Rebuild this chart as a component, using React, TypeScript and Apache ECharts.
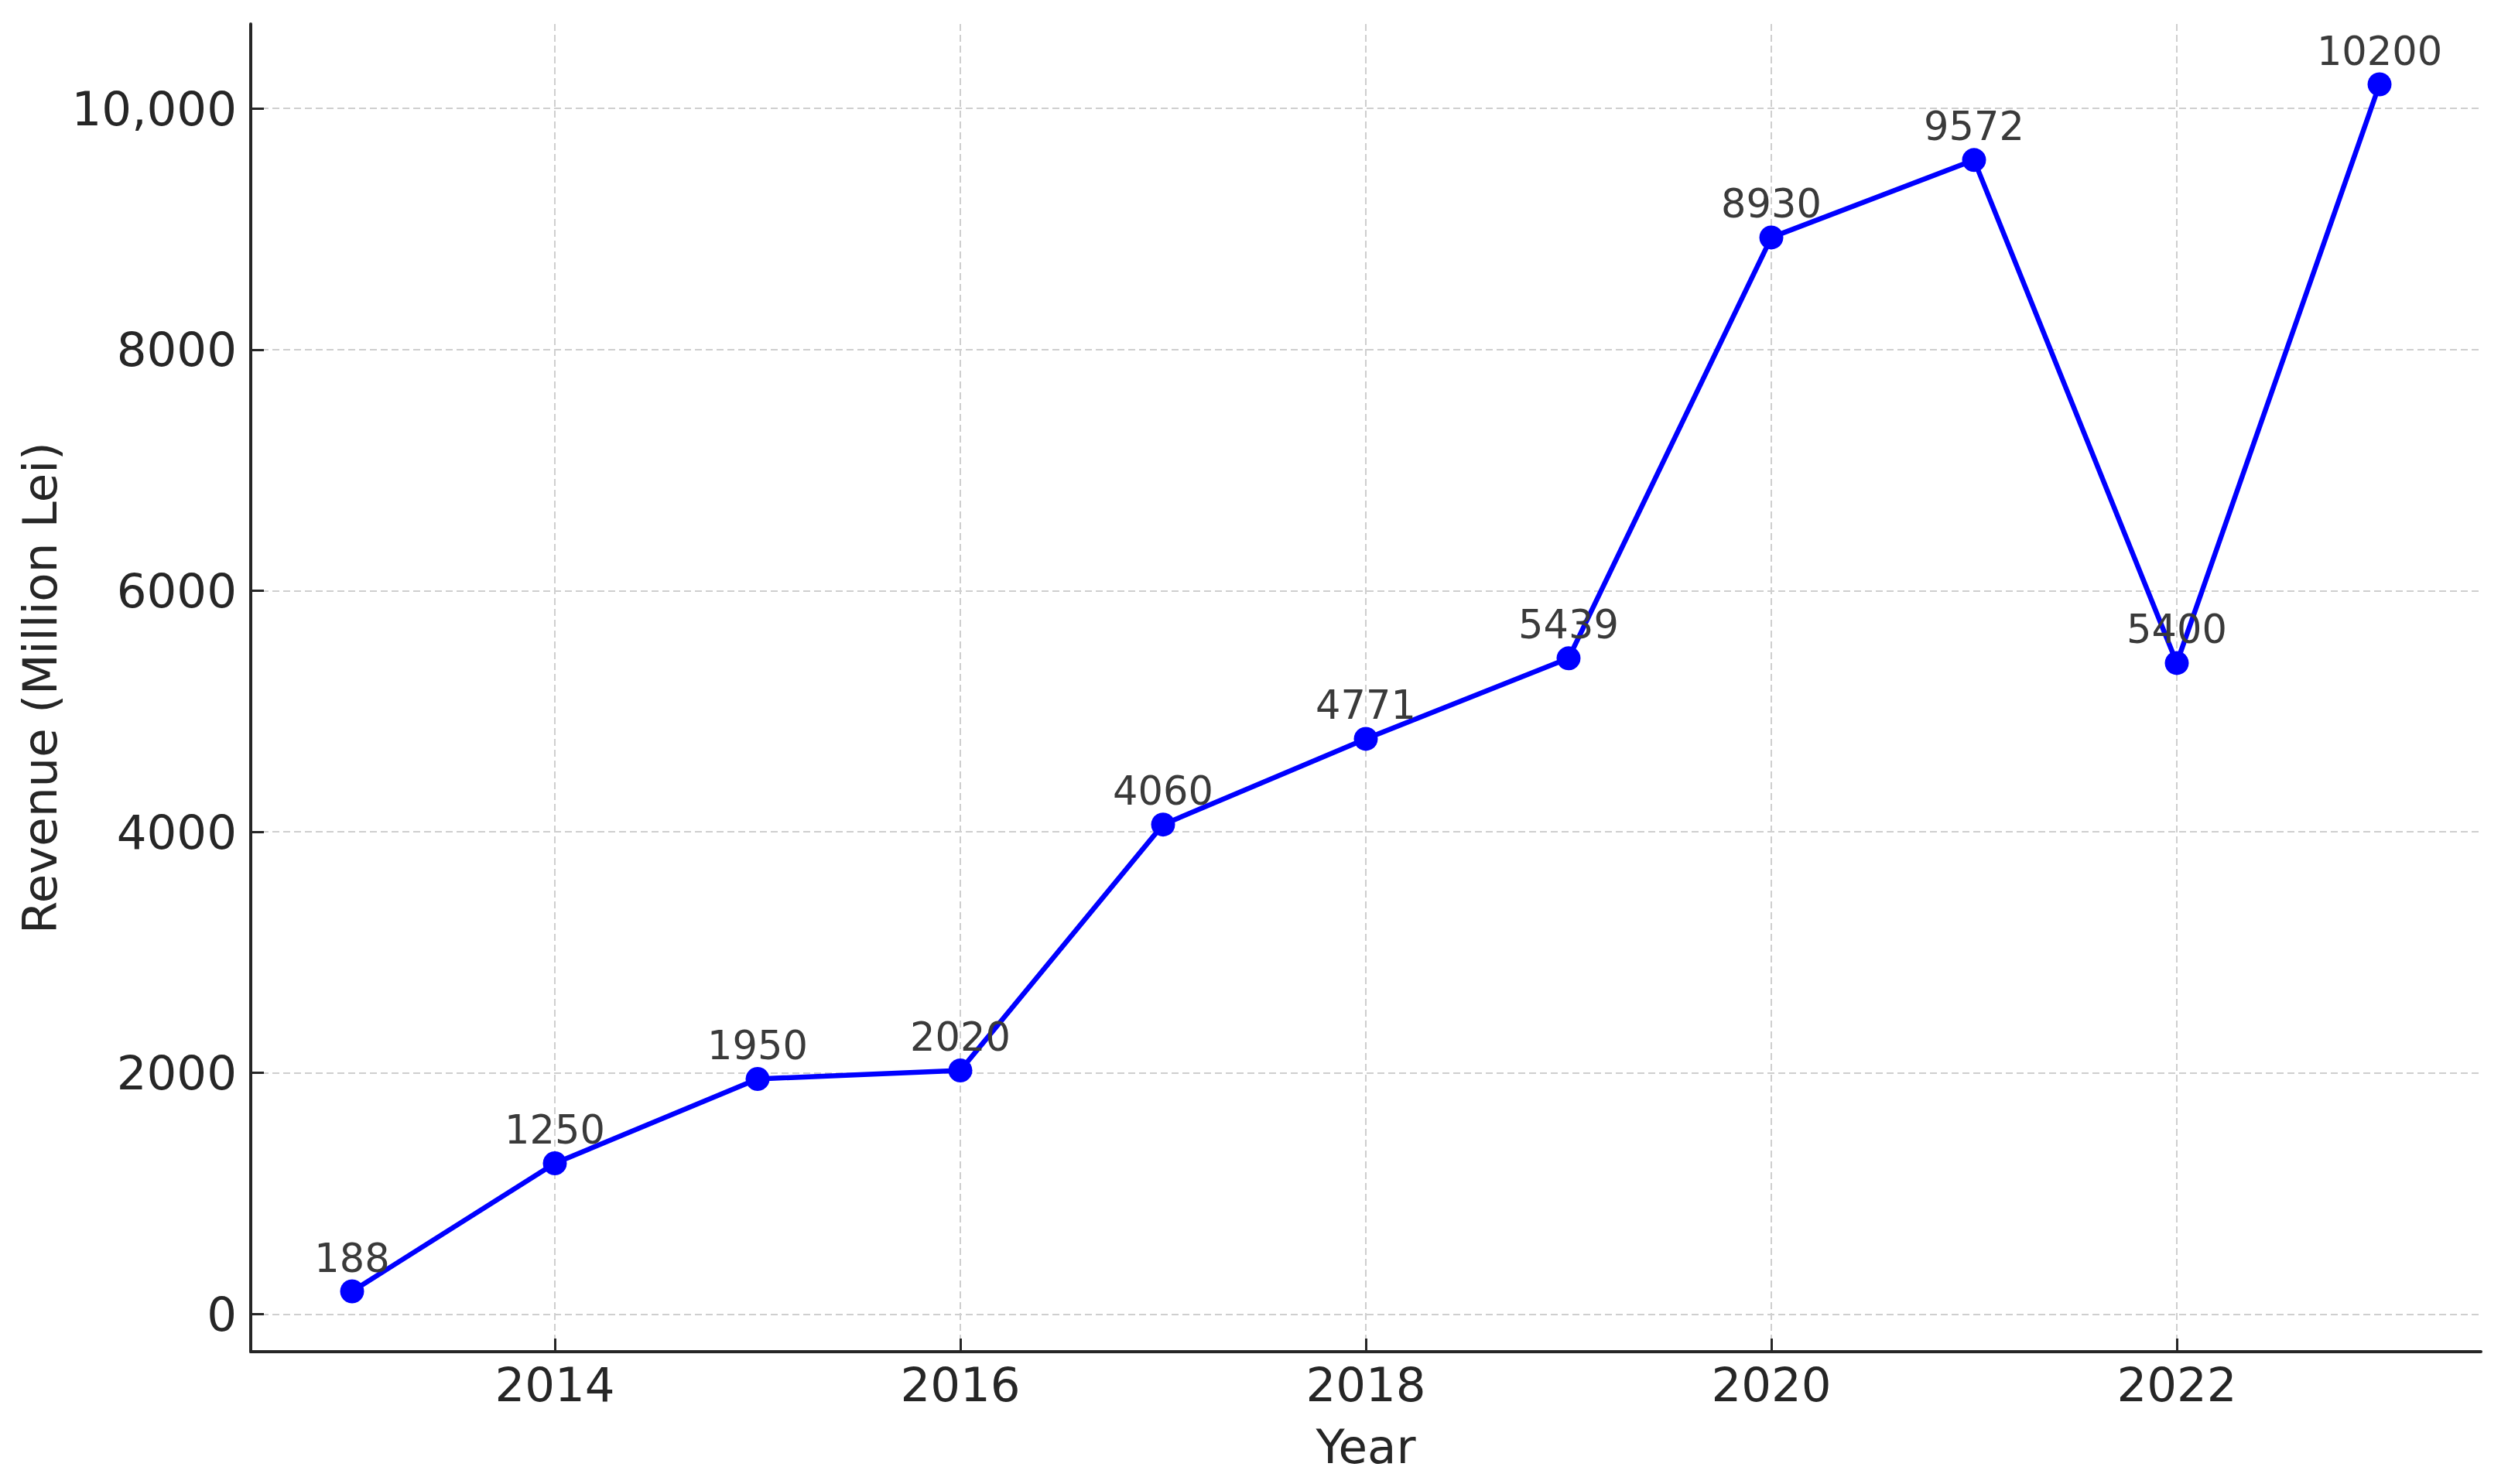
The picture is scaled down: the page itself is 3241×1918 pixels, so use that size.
import React, { useEffect, useRef } from "react";
import * as echarts from "echarts";

const years = [2013, 2014, 2015, 2016, 2017, 2018, 2019, 2020, 2021, 2022, 2023];
const revenue = [188, 1250, 1950, 2020, 4060, 4771, 5439, 8930, 9572, 5400, 10200];
const xTicks = [2014, 2016, 2018, 2020, 2022];
const yTicks = [0, 2000, 4000, 6000, 8000, 10000];
const yTickLabels = ["0", "2000", "4000", "6000", "8000", "10,000"];

const FONT = "DejaVu Sans";

export default function App() {
  const ref = useRef<HTMLDivElement>(null);
  useEffect(() => {
    if (!ref.current) return;
    const chart = echarts.init(ref.current, undefined, { renderer: "svg" });
    const axisColor = "#262626";
    const gridLine = { show: true, lineStyle: { color: "#cfcfcf", width: 2, type: [9, 5] as any } };
    chart.setOption({
      animation: false,
      backgroundColor: "#ffffff",
      grid: { left: 324, top: 31, width: 2882, height: 1716, containLabel: false },
      xAxis: {
        type: "value",
        min: 2012.5,
        max: 2023.5,
        name: "Year",
        nameLocation: "middle",
        nameGap: 92,
        nameTextStyle: { fontFamily: FONT, fontSize: 61, color: axisColor },
        axisLine: { show: true, onZero: false, lineStyle: { color: axisColor, width: 4 } },
        axisTick: { show: true, inside: true, length: 17, customValues: xTicks, lineStyle: { color: axisColor, width: 3 } },
        axisLabel: {
          show: true,
          customValues: xTicks,
          margin: 12,
          fontFamily: FONT,
          fontSize: 61,
          color: axisColor,
          formatter: (v: number) => String(v),
        },
        splitLine: gridLine,
      },
      yAxis: {
        type: "value",
        min: -312.6,
        max: 10700.6,
        name: "Revenue (Million Lei)",
        nameLocation: "middle",
        nameGap: 240,
        nameTextStyle: { fontFamily: FONT, fontSize: 61, color: axisColor },
        axisLine: { show: true, onZero: false, lineStyle: { color: axisColor, width: 4 } },
        axisTick: { show: true, inside: true, length: 17, customValues: yTicks, lineStyle: { color: axisColor, width: 3 } },
        axisLabel: {
          show: true,
          customValues: yTicks,
          margin: 18,
          fontFamily: FONT,
          fontSize: 61,
          color: axisColor,
          formatter: (v: number) => {
            const i = yTicks.indexOf(v);
            return i >= 0 ? yTickLabels[i] : String(v);
          },
        },
        splitLine: gridLine,
      },
      series: [
        {
          type: "line",
          data: years.map((y, i) => [y, revenue[i]]),
          symbol: "circle",
          symbolSize: 31,
          lineStyle: { color: "#0000ff", width: 6.5 },
          itemStyle: { color: "#0000ff" },
          label: {
            show: true,
            position: "top",
            distance: 2,
            fontFamily: FONT,
            fontSize: 51,
            color: "#3a3a3a",
            formatter: (p: any) => String(p.value[1]),
          },
          z: 3,
        },
      ],
    });
    return () => chart.dispose();
  }, []);
  return (
    <div
      ref={ref}
      style={{ position: "absolute", left: 0, top: 0, width: 3241, height: 1918 }}
    />
  );
}
